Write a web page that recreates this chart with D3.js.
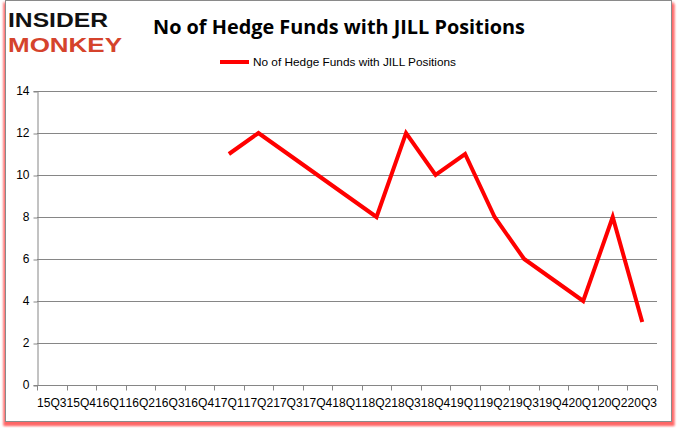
<!DOCTYPE html>
<html><head><meta charset="utf-8">
<script src="https://cdn.jsdelivr.net/npm/d3@7"></script>
<style>body{margin:0;background:#fff}svg{display:block}</style>
</head><body>
<script>
const categories = ["15Q3","15Q4","16Q1","16Q2","16Q3","16Q4","17Q1","17Q2","17Q3","17Q4","18Q1","18Q2","18Q3","18Q4","19Q1","19Q2","19Q3","19Q4","20Q1","20Q2","20Q3"];
const values = [null,null,null,null,null,null,11,12,11,10,9,8,12,10,11,8,6,5,4,8,3];
const yTicks = [0,2,4,6,8,10,12,14];
const seriesName = "No of Hedge Funds with JILL Positions";
const titleText = "No of Hedge Funds with JILL Positions";

const W = 677, H = 431;
const svg = d3.select("body").append("svg").attr("width", W).attr("height", H);

// frame with red shadow
const defs = svg.append("defs");
const f = defs.append("filter").attr("id","sh").attr("x","-5%").attr("y","-5%").attr("width","110%").attr("height","110%");
f.append("feGaussianBlur").attr("stdDeviation", 1.2);
svg.append("rect").attr("x", 3).attr("y", 2).attr("width", 671).attr("height", 424)
  .attr("fill", "#ff5050").attr("opacity", 0.55).attr("filter","url(#sh)");
svg.append("rect").attr("x", 4).attr("y", 4).attr("width", 671).attr("height", 422)
  .attr("fill", "#ff0000").attr("opacity", 0.35).attr("filter","url(#sh)");
svg.append("rect").attr("x", 5.5).attr("y", 0.5).attr("width", 666).attr("height", 421)
  .attr("fill", "#fff").attr("stroke", "#8a8a8a").attr("stroke-width", 1);

const x = d3.scaleBand().domain(categories).range([37, 657]).padding(0);
const y = d3.scaleLinear().domain([0, 14]).range([385, 91]);

// gridlines
svg.append("g").selectAll("line").data(yTicks).join("line")
  .attr("x1", 37).attr("x2", 657)
  .attr("y1", d => Math.round(y(d)) + 0.5).attr("y2", d => Math.round(y(d)) + 0.5)
  .attr("stroke", "#868686").attr("stroke-width", 1);

// y axis
const ya = svg.append("g").attr("transform", "translate(37.5,0)")
  .call(d3.axisLeft(y).tickValues(yTicks).tickSize(4).tickPadding(4).tickFormat(d3.format("d")));
ya.select(".domain").attr("stroke", "#868686");
ya.selectAll(".tick line").attr("stroke", "#868686").attr("transform","translate(0,0.5)");
ya.selectAll("text").attr("font-family", "Liberation Sans, Arial, sans-serif").attr("font-size", 12).attr("fill", "#000");

// x axis: ticks at category boundaries
const xa = svg.append("g").attr("transform", "translate(0,385.5)");
xa.append("line").attr("x1", 37).attr("x2", 657).attr("stroke", "#868686");
const bounds = categories.map(c => x(c)).concat([x.range()[1]]);
xa.selectAll("line.t").data(bounds).join("line").attr("class","t")
  .attr("x1", d => Math.round(d) + 0.5).attr("x2", d => Math.round(d) + 0.5)
  .attr("y1", 0).attr("y2", 5).attr("stroke", "#868686");
xa.selectAll("text").data(categories).join("text")
  .attr("x", d => x(d) + x.bandwidth() / 2).attr("y", 21)
  .attr("text-anchor", "middle")
  .attr("font-family", "Liberation Sans, Arial, sans-serif").attr("font-size", 12)
  .attr("textLength", 29.5).attr("lengthAdjust", "spacingAndGlyphs")
  .attr("fill", "#000").text(d => d);

// line
const pts = categories.map((c, i) => ({c, v: values[i]}));
const line = d3.line().defined(d => d.v != null)
  .x(d => x(d.c) + x.bandwidth() / 2).y(d => y(d.v));
svg.append("path").datum(pts).attr("d", line)
  .attr("fill", "none").attr("stroke", "#ff0000").attr("stroke-width", 4)
  .attr("stroke-linejoin", "miter");

// title
svg.append("text").attr("x", 339).attr("y", 34).attr("text-anchor", "middle")
  .attr("font-family", "Open Sans, Liberation Sans, sans-serif").attr("font-weight", "bold")
  .attr("font-size", 19).attr("textLength", 372).attr("lengthAdjust", "spacingAndGlyphs")
  .attr("fill", "#000").text(titleText);

// legend
svg.append("line").attr("x1", 220).attr("x2", 249).attr("y1", 62).attr("y2", 62)
  .attr("stroke", "#ff0000").attr("stroke-width", 4);
svg.append("text").attr("x", 253).attr("y", 66)
  .attr("font-family", "Liberation Sans, Arial, sans-serif").attr("font-size", 11.5)
  .attr("textLength", 203).attr("lengthAdjust", "spacingAndGlyphs")
  .attr("fill", "#000").text(seriesName);

// logo
svg.append("text").attr("x", 8).attr("y", 27)
  .attr("font-family", "Liberation Sans, Arial, sans-serif").attr("font-weight", "bold").attr("font-size", 21)
  .attr("textLength", 100).attr("lengthAdjust", "spacingAndGlyphs")
  .attr("fill", "#111").text("INSIDER");
svg.append("text").attr("x", 8).attr("y", 52)
  .attr("font-family", "Liberation Sans, Arial, sans-serif").attr("font-weight", "bold").attr("font-size", 21)
  .attr("textLength", 114).attr("lengthAdjust", "spacingAndGlyphs")
  .attr("fill", "#d5432c").text("MONKEY");
</script>
</body></html>
